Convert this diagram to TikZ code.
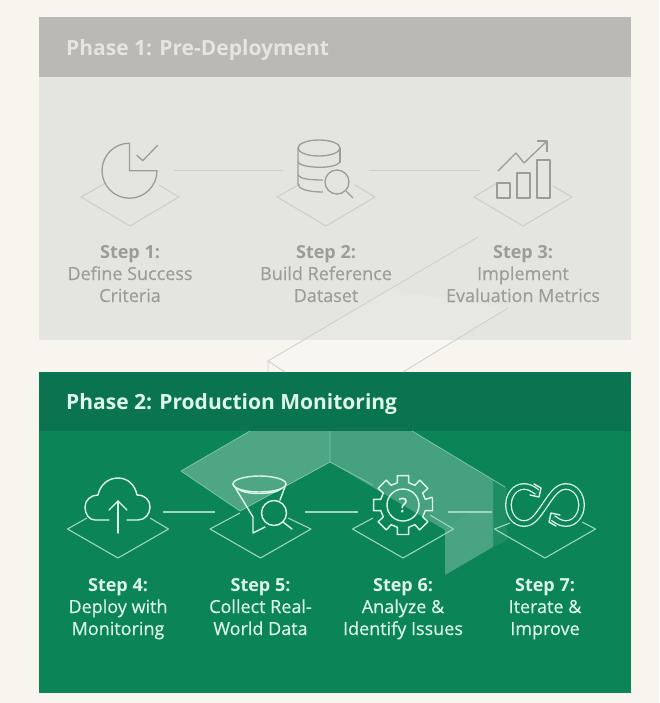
\documentclass[tikz,border=0pt]{standalone}
\usepackage{fontspec}
\setmainfont{Open Sans}[UprightFeatures={FakeBold=0.3}]
\definecolor{pagebg}{HTML}{F8F5EF}
\definecolor{graypanel}{HTML}{E4E4E0}
\definecolor{grayhead}{HTML}{BAB9B6}
\definecolor{grayink}{HTML}{9C9C98}
\definecolor{graydia}{HTML}{CFCFCA}
\definecolor{greenpanel}{HTML}{0B8457}
\definecolor{greenhead}{HTML}{0A7350}
\definecolor{greenink}{HTML}{DDF7EA}
\tikzset{
  phasetitle/.style={anchor=west, inner sep=0pt, font=\fontsize{21}{25}\selectfont\bfseries},
  steptext/.style={align=center, anchor=base, font=\fontsize{18}{22}\selectfont},
  grayicon/.style={draw=grayink, line width=1.3pt, line join=round},
  greenicon/.style={draw=greenink, line width=1.4pt, line join=round, line cap=round},
  graylink/.style={draw=graydia, line width=0.9pt},
  greenlink/.style={draw=greenink!70!greenpanel, line width=1.1pt},
}
\begin{document}
\begin{tikzpicture}[x=1pt, y=-1pt]
    \useasboundingbox (0,0) rectangle (659,703);
    \fill[pagebg] (0,0) rectangle (659,703);

    % Panels
    \fill[graypanel] (39,17) rectangle (631,340);
    \fill[grayhead] (39,17) rectangle (631,77);
    \fill[greenpanel] (39,372) rectangle (631,693);
    \fill[greenhead] (39,372) rectangle (631,431);
    \node[phasetitle, text=graypanel] (phaseone) at (66,50) {Phase 1: Pre-Deployment};
    \node[phasetitle, text=greenink] (phasetwo) at (66,404) {Phase 2: Production Monitoring};

    % Ribbon between the panels
    \fill[white, opacity=0.12] (388,290) -- (508,308) -- (403,372) -- (285,372) -- (268,361) -- cycle;
    \draw[graydia, line width=0.8pt] (478,237) -- (268,361) -- (268,372);
    \draw[graydia, line width=0.8pt] (268,361) -- (285,372);
    \draw[graydia, line width=0.8pt] (508,308) -- (403,372);

    % Ribbon on the green panel
    \fill[white, opacity=0.28] (250,431) -- (330,431) -- (330,462) -- (240,511) -- (181,471) -- cycle;
    \fill[white, opacity=0.24] (330,431) -- (412,431) -- (493,480) -- (493,513) -- (470,513) -- (445,530) -- (330,462) -- cycle;
    \fill[white, opacity=0.26] (445,530) -- (470,513) -- (493,513) -- (493,547) -- (445,575) -- cycle;
    \fill[white, opacity=0.08] (493,480) -- (507,488) -- (507,540) -- (493,547) -- cycle;
    \draw[greenink!55!greenpanel, line width=0.8pt] (240,511) -- (181,471) -- (250,431);
    \draw[greenink!55!greenpanel, line width=0.8pt] (412,431) -- (505,487);
    \draw[greenink!55!greenpanel, line width=0.8pt] (330,431) -- (330,462) -- (240,511);
    \draw[greenink!55!greenpanel, line width=0.8pt] (330,462) -- (373,485);

    % Diamonds, open behind the icons
    \foreach \n/\x/\y/\lx/\ly/\rx/\ry/\col/\w/\h in {
        1/130/197/104/184/159/185/graydia/49/29,
        2/326/197/300/184/355/185/graydia/49/29,
        3/523/197/497/183/553/186/graydia/49/29,
        4/118/529/87/518/150/518/greenink!70!greenpanel/50.5/29,
        5/260.5/529/240/513/288/518/greenink!70!greenpanel/50.5/29,
        6/403/529/373/518/430/515/greenink!70!greenpanel/50.5/29,
        7/545/529/510/523/582/522/greenink!70!greenpanel/50.5/29}
        \draw[\col, line width=1.1pt, line join=round] (\lx,\ly) -- (\x-\w,\y) -- (\x,\y+\h) -- (\x+\w,\y) -- (\rx,\ry);

    % Links
    \coordinate (l1a) at (174,170); \coordinate (l1b) at (283,170);
    \coordinate (l2a) at (369,170); \coordinate (l2b) at (480,170);
    \coordinate (l4a) at (163,512); \coordinate (l4b) at (215,512);
    \coordinate (l5a) at (305,512); \coordinate (l5b) at (358,512);
    \coordinate (l6a) at (448,512); \coordinate (l6b) at (492,512);
    \draw[graylink] (l1a) -- (l1b);
    \draw[graylink] (l2a) -- (l2b);
    \draw[greenlink] (l4a) -- (l4b);
    \draw[greenlink] (l5a) -- (l5b);
    \draw[greenlink] (l6a) -- (l6b);

    % Step 1 icon
    \draw[grayicon] (129.5,143.2) arc[start angle=270, end angle=0, radius=27.5] -- (129.5,170.7) -- cycle;
    \draw[grayicon] (136.7,155) -- (142.7,160.7) -- (157.7,145.3);

    % Step 2 icon
    \draw[grayicon] (319,148) circle[x radius=21, y radius=8];
    \draw[grayicon] (298,148) -- (298,184) .. controls (298,189) and (308,192) .. (323,192);
    \draw[grayicon] (340,148) -- (340,163);
    \draw[grayicon] (298,162) .. controls (300,168) and (335,170) .. (340,162);
    \draw[grayicon] (298,175) .. controls (300,179) and (310,180) .. (323,180);
    \draw[grayicon] (337,182) circle (12);
    \draw[grayicon] (346,191) -- (353,198);

    % Step 3 icon
    \draw[grayicon] (497,183) rectangle (510,198);
    \draw[grayicon] (517,173) rectangle (530,198);
    \draw[grayicon] (537,160) rectangle (550,198);
    \draw[grayicon] (498,171) -- (516,153) -- (524,163) -- (547,141);
    \draw[grayicon] (537,141) -- (547,141) -- (547,152);

    % Step 4 icon
    \draw[greenicon] (109,520) -- (95,520) .. controls (89,520) and (85,514) .. (85,507)
        .. controls (85,500) and (91,495) .. (98,495)
        .. controls (100,485) and (108,478) .. (118,478)
        .. controls (128,478) and (135,485) .. (137,495)
        .. controls (145,495) and (150,500) .. (150,507)
        .. controls (150,514) and (145,520) .. (138,520) -- (127,520);
    \draw[greenicon] (118,533) -- (118,501);
    \draw[greenicon] (109,510) -- (118,501) -- (127,510);

    % Step 5 icon
    \draw[greenicon] (259.5,484) circle[x radius=26.5, y radius=8];
    \draw[greenicon] (238,489) .. controls (245,495) and (274,495) .. (281,489);
    \draw[greenicon] (233,484) -- (253,517) -- (253,533) -- (265,527);
    \draw[greenicon] (286,484) -- (280,500);
    \draw[greenicon] (274,513) circle (12.5);
    \draw[greenicon] (283,522) -- (292,529);

    % Step 6 icon
    \draw[greenicon] ([shift={(403,505)}]-15:30) \foreach \a in {0,45,...,315} {
        -- ([shift={(403,505)}]\a-11:30) -- ([shift={(403,505)}]\a+11:30) -- ([shift={(403,505)}]\a+14:23) -- ([shift={(403,505)}]\a+31:23)
    } -- cycle;
    \draw[greenicon] (403,505) circle (16);
    \node[text=greenink, font=\fontsize{20}{22}\selectfont] (ask) at (403,505) {?};

    % Step 7 icon
    \draw[greenink, line width=1.3pt, double=greenpanel, double distance=4.2pt, line join=round]
        (553,518) .. controls (558,522) and (562,523.5) .. (566,523.5)
        .. controls (575,523.5) and (581.5,515) .. (581.5,505)
        .. controls (581.5,495) and (575,486.5) .. (566,486.5)
        .. controls (558,486.5) and (553,493) .. (545,505)
        .. controls (537,517) and (532,523.5) .. (524,523.5)
        .. controls (515,523.5) and (508.5,515) .. (508.5,505)
        .. controls (508.5,495) and (515,486.5) .. (524,486.5)
        .. controls (528,486.5) and (532,488) .. (537,492);
    \draw[greenicon] (534,484) -- (541,488) -- (539,497) -- (530,495);
    \draw[greenicon] (556,526) -- (549,522) -- (551,513) -- (560,515);

    % Step captions
    \foreach \n/\x/\y/\top/\rest in {
        1/130/302/Step 1:/Define Success\\Criteria,
        2/326/302/Step 2:/Build Reference\\Dataset,
        3/523/302/Step 3:/Implement\\Evaluation Metrics}
        \node[steptext, text=grayink] (cap\n) at (\x,\y) {\textbf{\top}\\\rest};
    \foreach \n/\x/\y/\top/\rest in {
        4/118/635/Step 4:/Deploy with\\Monitoring,
        5/260.5/635/Step 5:/Collect Real-\\World Data,
        6/403/635/Step 6:/Analyze \&\\Identify Issues,
        7/545/635/Step 7:/Iterate \&\\Improve}
        \node[steptext, text=greenink] (cap\n) at (\x,\y) {\textbf{\top}\\\rest};
\end{tikzpicture}
\end{document}
